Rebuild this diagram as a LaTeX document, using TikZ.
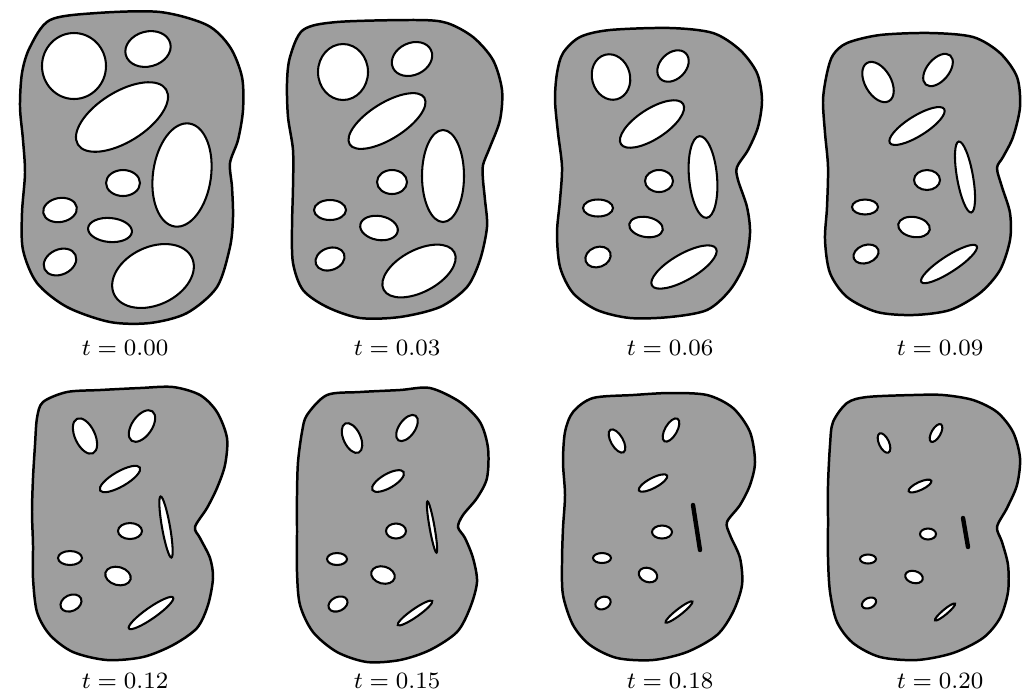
\documentclass[tikz,border=0pt]{standalone}
\usepackage{amsmath}
\usepackage{tikz}
\definecolor{stipple}{gray}{0.62}

\begin{document}
\begin{tikzpicture}[x={(0.12mm,0)},y={(0,-0.12mm)},
  body/.style={fill=stipple,draw=black,line width=0.85pt},
  hole/.style={fill=white,draw=black,line width=0.7pt},
  slit/.style={line width=1.5pt,line cap=round},
  caption/.style={font=\fontsize{8.2}{10}\selectfont}]
\useasboundingbox (0,0) rectangle (1024,695);
% t = 0.00
\begin{scope}
\draw[body] plot[smooth cycle] coordinates {(50,20) (97,13) (160,12) (207,25) (230,47) (242,77) (243,110) (238,140) (230,163) (232,187) (233,217) (230,247) (217,287) (187,313) (150,323) (110,322) (67,307) (37,283) (23,250) (22,213) (25,173) (23,140) (20,107) (22,73) (30,47)};
\foreach \x/\y/\a/\b/\r in {74/66/32/33/0,148/49/23/17.5/15,122/117/52/25/32,182/175/29/52/-8,123/183/17/13/0,60/210/17/12/10,110/230/22/12/-5,60/262/17/12.5/25,153/276/43/29/25}
  {\draw[hole,shift={(\x,\y)},rotate=\r] (0,0) ellipse [x radius=\a,y radius=\b];}
\end{scope}
% t = 0.03
\begin{scope}[shift={(260,0)}]
\draw[body] plot[smooth cycle] coordinates {(43,30) (77,22) (157,20) (187,23) (213,37) (233,60) (242,90) (240,120) (230,147) (223,165) (223,180) (225,200) (227,227) (220,260) (207,287) (180,307) (140,317) (100,318) (67,307) (43,290) (33,263) (32,227) (33,187) (33,150) (28,117) (27,83) (30,57)};
\foreach \x/\y/\a/\b/\r in {83/72/25/28/0,152/59/21/16/25,127/121/44/18/32,183/176/21/46/0,132/182/15/12/0,70/210/16/10/0,119/228/19/12/-10,70/259/15/11/20,159/271/40/21/28}
  {\draw[hole,shift={(\x,\y)},rotate=\r] (0,0) ellipse [x radius=\a,y radius=\b];}
\end{scope}
% t = 0.06
\begin{scope}[shift={(520,0)}]
\draw[body] plot[smooth cycle] coordinates {(60,37) (90,30) (150,28) (193,33) (220,50) (237,73) (242,100) (238,127) (228,150) (217,167) (218,180) (227,207) (230,233) (225,263) (210,290) (187,310) (150,317) (110,318) (77,310) (53,293) (40,267) (37,233) (40,200) (42,167) (38,133) (35,100) (37,73) (43,53)};
\foreach \x/\y/\a/\b/\r in {91/77/19/23/15,153/66/18/13/45,132/124/37/15/33,183/177/14/41/5,139/181/14/11/0,78/208/15/8.5/0,126/227/17/10/-10,78/257/13/10/20,164/267/37/13/30}
  {\draw[hole,shift={(\x,\y)},rotate=\r] (0,0) ellipse [x radius=\a,y radius=\b];}
\end{scope}
% t = 0.09
\begin{scope}[shift={(780,0)}]
\draw[body] plot[smooth cycle] coordinates {(67,43) (100,35) (150,33) (193,37) (220,53) (237,77) (240,107) (233,137) (223,157) (217,168) (222,187) (230,213) (230,240) (220,270) (200,293) (170,310) (133,315) (97,312) (67,297) (50,273) (45,240) (47,207) (48,167) (45,133) (43,100) (47,73) (53,55)};
\foreach \x/\y/\a/\b/\r in {98/82/13/22/30,158/70/19/11/50,137/126/32/10/32,185/177/8/36/10,147/180/13/10/0,85/207/13/7.5/0,134/227/16/10/-10,86/254/13/9/20,169/264/33/8/33}
  {\draw[hole,shift={(\x,\y)},rotate=\r] (0,0) ellipse [x radius=\a,y radius=\b];}
\end{scope}
% t = 0.12
\begin{scope}[shift={(0,345)}]
\draw[body] plot[smooth cycle] coordinates {(43,57) (67,47) (100,45) (140,43) (173,42) (200,50) (217,67) (227,93) (225,120) (217,143) (207,163) (195,182) (200,193) (210,213) (213,233) (208,260) (197,283) (173,300) (143,312) (107,315) (73,307) (50,290) (37,267) (33,233) (33,200) (32,167) (33,133) (35,100) (37,73)};
\foreach \x/\y/\a/\b/\r in {85/91/10/19/25,142/81/18/10/55,120/134/23/7.5/30,166/182/4/31/10,130/186/12/8/0,70/213/12/7/0,118/231/13/9/-15,71/258/11/8/25,151/268/27/5.5/35}
  {\draw[hole,shift={(\x,\y)},rotate=\r] (0,0) ellipse [x radius=\a,y radius=\b];}
\end{scope}
% t = 0.15
\begin{scope}[shift={(260,345)}]
\draw[body] plot[smooth cycle] coordinates {(47,70) (67,50) (100,47) (140,45) (170,43) (200,57) (220,77) (228,103) (227,133) (217,153) (203,170) (198,182) (205,193) (213,213) (217,237) (210,263) (197,287) (170,305) (140,315) (107,317) (77,307) (53,287) (40,260) (37,227) (37,187) (37,150) (38,117) (42,87)};
\foreach \x/\y/\a/\b/\r in {92/93/8.5/16/25,147/83/15/8/55,128/136/18/7/30,172/182/2.5/26/10,136/186/10/7.5/0,77/214/10/6/0,123/230/12/8.5/-15,78/259/10/7/25,155/268/21/4/35}
  {\draw[hole,shift={(\x,\y)},rotate=\r] (0,0) ellipse [x radius=\a,y radius=\b];}
\end{scope}
% t = 0.18
\begin{scope}[shift={(520,345)}]
\draw[body] plot[smooth cycle] coordinates {(53,67) (73,53) (113,50) (150,48) (187,50) (213,63) (230,87) (235,117) (230,140) (220,160) (207,177) (210,190) (220,213) (222,240) (213,267) (197,290) (167,307) (133,315) (97,313) (70,300) (53,280) (43,250) (42,217) (43,183) (45,150) (43,117) (45,87)};
\foreach \x/\y/\a/\b/\r in {97/96/6/13/30,151/85/13/6/60,133/138/16/5/28,142/187/10/6.5/0,82/213/9/5/0,128/230/9.5/7/-20,83/258/8/6/25,159/267/17/3/38}
  {\draw[hole,shift={(\x,\y)},rotate=\r] (0,0) ellipse [x radius=\a,y radius=\b];}
\coordinate (s7a) at (173,160); \coordinate (s7b) at (180,205);
\draw[slit] (s7a) -- (s7b);
\end{scope}
% t = 0.20
\begin{scope}[shift={(780,345)}]
\draw[body] plot[smooth cycle] coordinates {(53,77) (67,58) (87,52) (133,50) (163,50) (193,55) (217,67) (233,87) (240,113) (237,140) (227,163) (217,182) (222,197) (228,220) (228,247) (220,273) (203,293) (173,308) (137,315) (100,312) (73,298) (57,277) (50,247) (48,213) (48,177) (48,140) (50,100)};
\foreach \x/\y/\a/\b/\r in {104/98/5/10.5/25,156/88/10/4.5/60,140/141/12.5/4/25,148/189/8/5.5/0,88/214/8/4.5/0,134/232/9/6/-15,89/258/7.5/5/25,165/267/13/2.5/40}
  {\draw[hole,shift={(\x,\y)},rotate=\r] (0,0) ellipse [x radius=\a,y radius=\b];}
\coordinate (s8a) at (183,173); \coordinate (s8b) at (188,202);
\draw[slit] (s8a) -- (s8b);
\end{scope}
% captions
\foreach \n/\x/\y/\t in {1/125/348/0.00,2/397/348/0.03,3/670/348/0.06,4/940/348/0.09,5/125/681/0.12,6/397/681/0.15,7/670/681/0.18,8/940/681/0.20}
  {\node[caption] (cap\n) at (\x,\y) {$t = \t$};}
\end{tikzpicture}
\end{document}
